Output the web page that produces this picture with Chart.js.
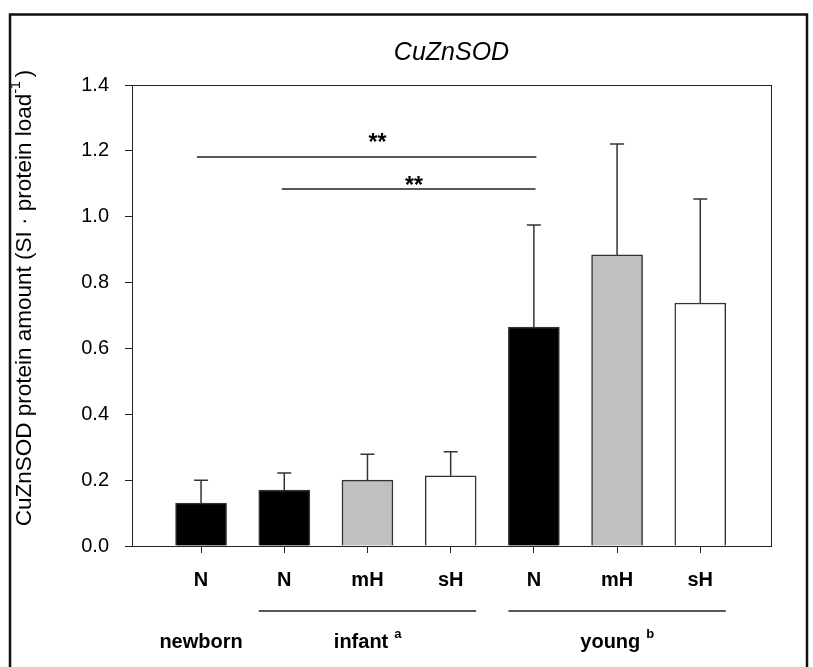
<!DOCTYPE html>
<html lang="en">
<head>
    <meta charset="UTF-8">
    <title>CuZnSOD</title>
    <script src="https://cdn.jsdelivr.net/npm/chart.js"></script>
    <style>
        body {
            margin: 0;
            background: #fff;
        }
        canvas {
            display: block;
        }
    </style>
</head>
<body>
    <canvas id="myChart" width="813" height="667"></canvas>
    <script>
        // data
        const labels = ['N', 'N', 'mH', 'sH', 'N', 'mH', 'sH'];
        const means = [0.13, 0.17, 0.20, 0.213, 0.665, 0.884, 0.738];
        const sd = [0.07, 0.052, 0.079, 0.073, 0.31, 0.337, 0.316];
        const fills = ['#000000', '#000000', '#c0c0c0', '#ffffff', '#000000', '#c0c0c0', '#ffffff'];

        const groupNames = ['newborn', 'infant', 'young'];
        const groupSup = ['', 'a', 'b'];
        const groupFirst = [0, 1, 4];
        const groupLast = [0, 3, 6];

        // significance brackets
        const sigFrom = [-0.05, 0.97];
        const sigTo = [4.03, 4.02];
        const sigY = [1.181, 1.084];
        const sigText = ['**', '**'];
        const sigTextX = [2.12, 2.56];
        const sigTextY = [1.205, 1.075];

        const yTicks = [0, 0.2, 0.4, 0.6, 0.8, 1.0, 1.2, 1.4];

        const axisColor = '#222';
        const font = '"Liberation Sans", Arial, sans-serif';

        const extras = {
            id: 'extras',
            afterDatasetsDraw(chart) {
                const ctx = chart.ctx;
                const x = chart.scales.x;
                const y = chart.scales.y;
                const area = chart.chartArea;
                const barW = chart.getDatasetMeta(0).data[0].width;

                ctx.save();
                // error bars (upper only)
                ctx.strokeStyle = '#333';
                ctx.lineWidth = 1.5;
                means.forEach((m, i) => {
                    const px = x.getPixelForValue(i);
                    const top = y.getPixelForValue(m + sd[i]);
                    ctx.beginPath();
                    ctx.moveTo(px, y.getPixelForValue(m));
                    ctx.lineTo(px, top);
                    ctx.moveTo(px - 7, top);
                    ctx.lineTo(px + 7, top);
                    ctx.stroke();
                });

                // box around plot
                ctx.strokeStyle = axisColor;
                ctx.lineWidth = 1;
                ctx.strokeRect(Math.round(area.left) + 0.5, Math.round(area.top) + 0.5,
                    Math.round(area.right - area.left), Math.round(area.bottom - area.top));

                // significance lines
                ctx.lineWidth = 1.5;
                ctx.strokeStyle = '#222';
                sigFrom.forEach((f, i) => {
                    const py = y.getPixelForValue(sigY[i]);
                    ctx.beginPath();
                    ctx.moveTo(x.getPixelForValue(f), py);
                    ctx.lineTo(x.getPixelForValue(sigTo[i]), py);
                    ctx.stroke();
                });
                ctx.fillStyle = '#000';
                ctx.font = 'bold 23px ' + font;
                ctx.textAlign = 'center';
                ctx.textBaseline = 'alphabetic';
                sigText.forEach((t, i) => {
                    ctx.fillText(t, x.getPixelForValue(sigTextX[i]), y.getPixelForValue(sigTextY[i]) + 1);
                });

                // group lines and labels under the axis
                groupNames.forEach((g, i) => {
                    const a = x.getPixelForValue(groupFirst[i]);
                    const b = x.getPixelForValue(groupLast[i]);
                    if (groupLast[i] > groupFirst[i]) {
                        ctx.beginPath();
                        ctx.moveTo(a - barW / 2, 611);
                        ctx.lineTo(b + barW / 2, 611);
                        ctx.stroke();
                    }
                    ctx.font = 'bold 20px ' + font;
                    const w1 = ctx.measureText(g).width;
                    let w2 = 0;
                    if (groupSup[i]) {
                        ctx.font = 'bold 13px ' + font;
                        w2 = ctx.measureText(' ' + groupSup[i]).width + 2;
                    }
                    const cx = (a + b) / 2;
                    const sx = cx - (w1 + w2) / 2;
                    ctx.textAlign = 'left';
                    ctx.font = 'bold 20px ' + font;
                    ctx.fillText(g, sx, 648);
                    if (groupSup[i]) {
                        ctx.font = 'bold 13px ' + font;
                        ctx.fillText(groupSup[i], sx + w1 + 6, 638);
                    }
                });

                // title
                ctx.textAlign = 'center';
                ctx.font = 'italic 25px ' + font;
                ctx.fillText('CuZnSOD', (area.left + area.right) / 2, 60);

                // y axis title with superscript
                ctx.translate(25, 298);
                ctx.rotate(-Math.PI / 2);
                const main = 'CuZnSOD protein amount (SI \u00b7 protein load';
                ctx.font = '22.5px ' + font;
                const wm = ctx.measureText(main).width;
                const wc = ctx.measureText(')').width;
                ctx.font = '14px ' + font;
                const ws = ctx.measureText('-1').width;
                let sx = -(wm + ws + wc + 4) / 2;
                ctx.textAlign = 'left';
                ctx.textBaseline = 'middle';
                ctx.font = '22.5px ' + font;
                ctx.fillText(main, sx, 0);
                ctx.font = '14px ' + font;
                ctx.fillText('-1', sx + wm, -9);
                ctx.font = '22.5px ' + font;
                ctx.fillText(')', sx + wm + ws + 4, 0);

                // outer frame
                ctx.setTransform(1, 0, 0, 1, 0, 0);
                ctx.strokeStyle = '#111';
                ctx.lineWidth = 2.5;
                ctx.strokeRect(10, 14.5, 797, 700);
                ctx.restore();
            }
        };

        const ctx = document.getElementById('myChart').getContext('2d');
        new Chart(ctx, {
            type: 'bar',
            data: {
                datasets: [{
                    data: means.map((m, i) => ({ x: i, y: m })),
                    backgroundColor: fills,
                    borderColor: '#333',
                    borderWidth: 1.5,
                    borderSkipped: 'bottom',
                    barThickness: 51
                }]
            },
            options: {
                responsive: false,
                animation: false,
                layout: {
                    padding: { left: 0, top: 85, right: 42, bottom: 0 }
                },
                plugins: {
                    legend: { display: false },
                    tooltip: { enabled: false }
                },
                scales: {
                    x: {
                        type: 'linear',
                        offset: false,
                        min: -0.83,
                        max: 6.85,
                        afterBuildTicks: (scale) => {
                            scale.ticks = labels.map((l, i) => ({ value: i }));
                        },
                        afterFit: (scale) => { scale.height = 121; },
                        ticks: {
                            autoSkip: false,
                            maxRotation: 0,
                            padding: 15,
                            color: '#000',
                            font: { family: font, size: 20, weight: 'bold' },
                            callback: (v) => labels[v]
                        },
                        grid: {
                            offset: false,
                            drawOnChartArea: false,
                            tickLength: 7,
                            color: axisColor
                        },
                        border: { color: axisColor }
                    },
                    y: {
                        min: 0,
                        max: 1.4,
                        afterBuildTicks: (scale) => {
                            scale.ticks = yTicks.map(v => ({ value: v }));
                        },
                        afterFit: (scale) => { scale.width = 132; },
                        ticks: {
                            padding: 16,
                            color: '#000',
                            font: { family: font, size: 20 },
                            callback: (v) => v.toFixed(1)
                        },
                        grid: {
                            drawOnChartArea: false,
                            tickLength: 7,
                            color: axisColor
                        },
                        border: { color: axisColor }
                    }
                }
            },
            plugins: [extras]
        });
    </script>
</body>
</html>
